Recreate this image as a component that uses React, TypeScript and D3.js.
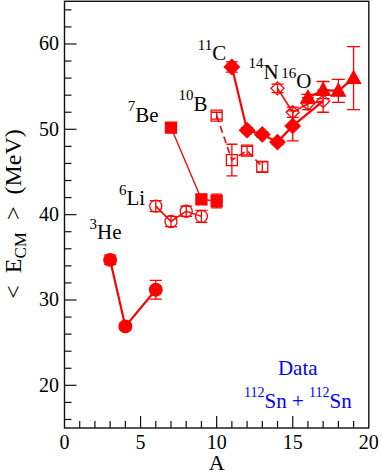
import { useEffect, useRef } from 'react';
import * as d3 from 'd3';

// isotope data: mass number A, mean E_CM (MeV), error
const heA = [3, 4, 6];
const heE = [34.7, 26.9, 31.2];
const heErr = [0.55, 0.4, 1.1];

const liA = [6, 7, 8, 9];
const liE = [41.0, 39.2, 40.4, 39.8];
const liErr = [0.65, 0.6, 0.6, 0.7];

const beA = [7, 9, 10];
const beE = [50.2, 41.8, 41.6];
const beErr = [0.3, 0.55, 0.8];

const bA = [10, 11, 12, 13];
const bE = [51.6, 46.4, 47.5, 45.6];
const bErr = [0.4, 1.85, 0.5, 0.6];

const cA = [11, 12, 13, 14, 15];
const cE = [57.3, 49.9, 49.4, 48.5, 50.4];
const cErr = [0.6, 0.3, 0.3, 0.3, 1.75];
// the carbon line runs on to A=17
const cLineA = [11, 12, 13, 14, 15, 17];
const cLineE = [57.3, 49.9, 49.4, 48.5, 50.4, 53.3];

const nA = [14, 15, 16, 17];
const nE = [54.8, 52.0, 53.0, 53.3];
const nErr = [0.5, 0.6, 0.7, 1.3];

const oA = [16, 17, 18, 19];
const oE = [53.7, 54.6, 54.5, 56.0];
const oErr = [0.4, 1.0, 1.35, 3.7];

// labels: superscript, element, position in data coords
const labelSup = ['3', '6', '7', '10', '11', '14', '16'];
const labelEl = ['He', 'Li', 'Be', 'B', 'C', 'N', 'O'];
const labelX = [1.65, 3.58, 4.15, 7.5, 8.76, 12.1, 14.25];
const labelY = [37.1, 41.1, 50.9, 52.15, 58.1, 55.9, 54.8];

const xTicks = [0, 5, 10, 15, 20];
const yTicks = [20, 30, 40, 50, 60];

const width = 382;
const height = 474;
const red = '#ff0000';
const serif = '"Liberation Serif", "DejaVu Serif", serif';

const App = () => {
    const svgRef = useRef<SVGSVGElement | null>(null);

    useEffect(() => {
        const svg = d3.select(svgRef.current);
        svg.selectAll('*').remove();

        const x = d3.scaleLinear().domain([0, 20]).range([64.5, 368.8]);
        const y = d3.scaleLinear().domain([15, 65]).range([428, 1.3]);

        svg.append('rect')
            .attr('width', width).attr('height', height).attr('fill', 'white');

        // frame
        svg.append('rect')
            .attr('x', x(0)).attr('y', y(65))
            .attr('width', x(20) - x(0)).attr('height', y(15) - y(65))
            .attr('fill', 'none').attr('stroke', '#111').attr('stroke-width', 1.4);

        // ticks (inside)
        const ax = svg.append('g').attr('stroke', '#111').attr('stroke-width', 1.2);
        d3.range(0, 21, 1).forEach(t => {
            const len = t % 5 === 0 ? 12 : 7;
            if (t === 0 || t === 20) return;
            ax.append('line').attr('x1', x(t)).attr('x2', x(t))
                .attr('y1', y(15)).attr('y2', y(15) - len);
        });
        d3.range(16, 65, 2).forEach(t => {
            const len = t % 10 === 0 ? 12 : 7;
            ax.append('line').attr('x1', x(0)).attr('x2', x(0) + len)
                .attr('y1', y(t)).attr('y2', y(t));
        });

        svg.append('g').selectAll('text').data(xTicks).join('text')
            .attr('x', d => x(d)).attr('y', 449)
            .attr('text-anchor', 'middle')
            .style('font-family', serif).style('font-size', '20px')
            .text(d => d);
        svg.append('g').selectAll('text').data(yTicks).join('text')
            .attr('x', 59).attr('y', d => y(d) + 6.5)
            .attr('text-anchor', 'end')
            .style('font-family', serif).style('font-size', '20px')
            .text(d => d);

        svg.append('text')
            .attr('x', (x(0) + x(20)) / 2).attr('y', 470)
            .attr('text-anchor', 'middle')
            .style('font-family', serif).style('font-size', '22px')
            .text('A');

        const yl = svg.append('text')
            .attr('transform', `translate(20.5, ${214}) rotate(-90)`)
            .attr('text-anchor', 'middle')
            .style('white-space', 'pre')
            .style('font-family', serif).style('font-size', '24px');
        yl.append('tspan').text('<  E');
        yl.append('tspan').attr('dy', 5).style('font-size', '17px').text('CM');
        yl.append('tspan').attr('dy', -5).text('  >  (MeV)');

        const diamond = (r: number) => `M0,${-r}L${r},0L0,${r}L${-r},0Z`;
        const triangle = (r: number) => `M0,${-r * 1.05}L${r},${r * 0.75}L${-r},${r * 0.75}Z`;
        const square = (r: number) => `M${-r},${-r}H${r}V${r}H${-r}Z`;
        const circle = (r: number) => d3.arc()({ innerRadius: 0, outerRadius: r, startAngle: 0, endAngle: 2 * Math.PI }) as string;

        const series = [
            { A: heA, E: heE, err: heErr, lA: heA, lE: heE, lw: 2.2, dash: null, shape: circle(6.3), fill: true, cap: 6 },
            { A: liA, E: liE, err: liErr, lA: liA, lE: liE, lw: 1.5, dash: null, shape: circle(6), fill: false, cap: 6 },
            { A: beA, E: beE, err: beErr, lA: beA, lE: beE, lw: 1.3, dash: null, shape: square(5.5), fill: true, cap: 5.5 },
            { A: bA, E: bE, err: bErr, lA: bA, lE: bE, lw: 1.6, dash: '7,4', shape: square(5.5), fill: false, cap: 5.5 },
            { A: cA, E: cE, err: cErr, lA: cLineA, lE: cLineE, lw: 2.2, dash: null, shape: diamond(7.5), fill: true, cap: 6 },
            { A: nA, E: nE, err: nErr, lA: nA, lE: nE, lw: 1.6, dash: null, shape: diamond(6.5), fill: false, cap: 6 },
            { A: oA, E: oE, err: oErr, lA: oA, lE: oE, lw: 2.2, dash: null, shape: triangle(7), fill: true, cap: 6.5 },
        ];

        const line = d3.line<number>();
        series.forEach(s => {
            const g = svg.append('g');
            g.append('path')
                .attr('d', line(s.lA.map((a, i) => [x(a), y(s.lE[i])] as [number, number])))
                .attr('fill', 'none').attr('stroke', red).attr('stroke-width', s.lw)
                .attr('stroke-dasharray', s.dash);
            s.A.forEach((a, i) => {
                const cx = x(a);
                const top = y(s.E[i] + s.err[i]);
                const bot = y(s.E[i] - s.err[i]);
                g.append('path')
                    .attr('d', `M${cx},${top}V${bot}M${cx - s.cap},${top}H${cx + s.cap}M${cx - s.cap},${bot}H${cx + s.cap}`)
                    .attr('fill', 'none').attr('stroke', red).attr('stroke-width', 1.3);
                g.append('path')
                    .attr('transform', `translate(${cx},${y(s.E[i])})`)
                    .attr('d', s.shape)
                    .attr('fill', s.fill ? red : 'none')
                    .attr('stroke', red).attr('stroke-width', 1.3);
            });
        });

        // isotope labels
        labelEl.forEach((el, i) => {
            const t = svg.append('text')
                .attr('x', x(labelX[i])).attr('y', y(labelY[i]))
                .style('font-family', serif).style('font-size', '21px');
            t.append('tspan').attr('dy', -10.5).style('font-size', '15px').text(labelSup[i]);
            t.append('tspan').attr('dy', 10.5).text(el);
        });

        const blue = '#0000ff';
        svg.append('text')
            .attr('x', x(14.03)).attr('y', y(21.2))
            .attr('fill', blue)
            .style('font-family', serif).style('font-size', '21px')
            .text('Data');
        const sn = svg.append('text')
            .attr('x', x(11.8)).attr('y', y(17.3))
            .attr('fill', blue)
            .style('font-family', serif).style('font-size', '21px');
        sn.append('tspan').attr('dy', -11).style('font-size', '14px').text('112');
        sn.append('tspan').attr('dy', 11).text('Sn + ');
        sn.append('tspan').attr('dy', -11).style('font-size', '14px').text('112');
        sn.append('tspan').attr('dy', 11).text('Sn');
    }, []);

    return (
        <svg ref={svgRef} width={width} height={height}
            style={{ position: 'absolute', left: 0, top: 0 }}></svg>
    );
};

export default App;
